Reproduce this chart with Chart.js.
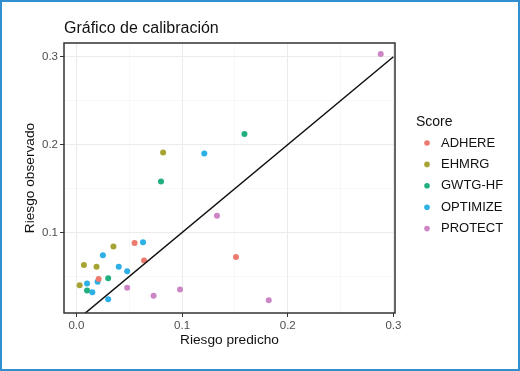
<!DOCTYPE html>
<html>
<head>
<meta charset="utf-8">
<script src="https://cdn.jsdelivr.net/npm/chart.js@4"></script>
<style>
  html, body { margin: 0; padding: 0; background: #fff; }
  #wrap { width: 520px; height: 371px; }
</style>
</head>
<body>
<div id="wrap"><canvas id="calib" width="520" height="371"></canvas></div>
<script>
// --- Datos ---
const scores = ["ADHERE", "EHMRG", "GWTG-HF", "OPTIMIZE", "PROTECT"];
const colors = ["#EC7A6E", "#A6A432", "#22AF7E", "#2CB0E6", "#CC86C6"];

const adhereX = [0.055, 0.064, 0.021, 0.151];
const adhereY = [0.088, 0.068, 0.047, 0.072];
const ehmrgX = [0.035, 0.007, 0.019, 0.003, 0.082];
const ehmrgY = [0.084, 0.063, 0.061, 0.040, 0.191];
const gwtgX = [0.030, 0.010, 0.159, 0.080];
const gwtgY = [0.048, 0.034, 0.212, 0.158];
const optimizeX = [0.063, 0.025, 0.040, 0.048, 0.020, 0.010, 0.015, 0.030, 0.121];
const optimizeY = [0.089, 0.074, 0.061, 0.056, 0.044, 0.042, 0.032, 0.024, 0.190];
const protectX = [0.048, 0.073, 0.133, 0.098, 0.182, 0.288];
const protectY = [0.037, 0.028, 0.119, 0.035, 0.023, 0.303];

const seriesX = [adhereX, ehmrgX, gwtgX, optimizeX, protectX];
const seriesY = [adhereY, ehmrgY, gwtgY, optimizeY, protectY];

const tickVals = [0, 0.05, 0.1, 0.15, 0.2, 0.25, 0.3];
const majorTicks = [0, 0.1, 0.2, 0.3];
const diagLine = [0, 0.3];

const isMajor = (v) => majorTicks.some((m) => Math.abs(m - v) < 1e-9);
const FONT = "'Liberation Sans', Arial, sans-serif";

// --- Títulos, leyenda y marcos ---
const decor = {
  id: "decor",
  afterDraw(chart) {
    const ctx = chart.ctx;
    const a = chart.chartArea;
    ctx.save();
    // marco del panel
    ctx.strokeStyle = "#333333";
    ctx.lineWidth = 1.5;
    ctx.strokeRect(a.left, a.top, a.right - a.left, a.bottom - a.top);
    // marco exterior azul
    ctx.strokeStyle = "#2f8fcf";
    ctx.lineWidth = 2;
    ctx.strokeRect(1, 1, 518, 369);
    // título
    ctx.fillStyle = "#111";
    ctx.font = "16px " + FONT;
    ctx.textBaseline = "middle";
    ctx.textAlign = "left";
    ctx.fillText("Gráfico de calibración", 64, 29);
    // títulos de ejes
    ctx.font = "13.7px " + FONT;
    ctx.textAlign = "center";
    ctx.fillText("Riesgo predicho", (a.left + a.right) / 2, 340);
    ctx.save();
    ctx.translate(30, (a.top + a.bottom) / 2);
    ctx.rotate(-Math.PI / 2);
    ctx.fillText("Riesgo observado", 0, 0);
    ctx.restore();
    // leyenda
    ctx.textAlign = "left";
    ctx.font = "14px " + FONT;
    ctx.fillText("Score", 416, 122);
    ctx.font = "13px " + FONT;
    scores.forEach((s, i) => {
      const y = 143 + i * 21.4;
      ctx.fillStyle = colors[i];
      ctx.beginPath();
      ctx.arc(427, y, 2.8, 0, Math.PI * 2);
      ctx.fill();
      ctx.fillStyle = "#111";
      ctx.fillText(s, 441, y);
    });
    ctx.restore();
  },
};

const datasets = scores.map((s, i) => ({
  type: "scatter",
  label: s,
  data: seriesX[i].map((x, j) => ({ x, y: seriesY[i][j] })),
  backgroundColor: colors[i],
  borderWidth: 0,
  pointRadius: 3,
  order: 1,
}));

datasets.push({
  type: "line",
  label: "diagonal",
  data: diagLine.map((v) => ({ x: v, y: v })),
  borderColor: "#111",
  borderWidth: 1.5,
  pointRadius: 0,
  order: 0,
});

function axis(min, max, pos, fit) {
  return {
    type: "linear",
    position: pos,
    min,
    max,
    afterBuildTicks: (scale) => {
      scale.ticks = tickVals.filter((v) => v >= min && v <= max).map((v) => ({ value: v }));
    },
    afterFit: fit,
    grid: {
      color: (c) => (isMajor(c.tick.value) ? "#EBEBEB" : "#F3F3F3"),
      lineWidth: (c) => (isMajor(c.tick.value) ? 1 : 0.6),
      tickColor: (c) => (isMajor(c.tick.value) ? "#333333" : "rgba(0,0,0,0)"),
      tickLength: 4,
      drawOnChartArea: true,
    },
    border: { display: false },
    ticks: {
      padding: 2,
      color: "#4D4D4D",
      font: { family: FONT, size: 11.5 },
      autoSkip: false,
      maxRotation: 0,
      callback: (v) => (isMajor(v) ? v.toFixed(1) : ""),
    },
  };
}

new Chart(document.getElementById("calib"), {
  data: { datasets },
  plugins: [decor],
  options: {
    responsive: false,
    animation: false,
    layout: { padding: { left: 0, top: 43, right: 125, bottom: 0 } },
    plugins: { legend: { display: false }, tooltip: { enabled: false } },
    scales: {
      x: axis(-0.0118, 0.3015, "bottom", (s) => { s.height = 58; }),
      y: axis(0.0084, 0.3156, "left", (s) => { s.width = 64; }),
    },
  },
});
</script>
</body>
</html>
